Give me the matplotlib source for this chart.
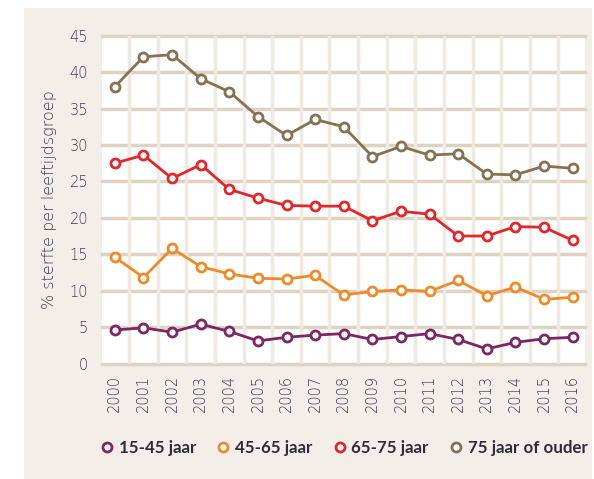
import matplotlib.pyplot as plt
from matplotlib.patches import Rectangle
from matplotlib.lines import Line2D

plt.rcParams['font.family'] = ['Lato', 'DejaVu Sans']

years = list(range(2000, 2017))
labels = ["15-45 jaar", "45-65 jaar", "65-75 jaar", "75 jaar of ouder"]

age_15_45 = [4.6, 4.9, 4.3, 5.4, 4.4, 3.1, 3.6, 3.9, 4.1, 3.3, 3.7, 4.1, 3.3, 2.0, 2.9, 3.4, 3.6]
age_45_65 = [14.6, 11.8, 15.8, 13.3, 12.3, 11.7, 11.6, 12.1, 9.4, 9.9, 10.1, 9.9, 11.4, 9.3, 10.5, 8.8, 9.1]
age_65_75 = [27.5, 28.6, 25.4, 27.3, 23.9, 22.7, 21.7, 21.6, 21.6, 19.6, 20.9, 20.5, 17.5, 17.5, 18.8, 18.7, 16.9]
age_75_plus = [38.0, 42.1, 42.4, 39.1, 37.3, 33.9, 31.3, 33.5, 32.5, 28.4, 29.8, 28.6, 28.8, 26.0, 25.9, 27.1, 26.8]

series = [age_15_45, age_45_65, age_65_75, age_75_plus]
colors = ["#7a2763", "#ef8a2c", "#e1262c", "#857255"]

text_col = "#3c3c50"
axis_font = {"family": "DejaVu Sans", "weight": 200}

fig = plt.figure(figsize=(5.94, 4.79), dpi=100)
fig.patch.set_facecolor("white")
# beige panel behind the chart
fig.patches.append(Rectangle((24 / 594, 0), (592 - 24) / 594, 1 - 8 / 479,
                             transform=fig.transFigure, facecolor="#f3efe8",
                             edgecolor="none", zorder=-5))

ax = fig.add_axes([102 / 594, 1 - 363.5 / 479, (585 - 102) / 594, (363.5 - 35.7) / 479])
ax.set_zorder(2)
ax.set_facecolor("white")

x = list(range(len(years)))
for vals, c in zip(series, colors):
    ax.plot(x, vals, color=c, lw=2, marker="o", ms=6.5, mew=2,
            mfc="white", mec=c, zorder=3, clip_on=False)

ax.set_xlim(-0.45, len(years) - 1 + 0.43)
ax.set_ylim(0, 45)

# grid: horizontal at ticks, vertical between years
for yv in range(0, 50, 5):
    ax.axhline(yv, color="#ddd3c3", lw=2.5, zorder=1, clip_on=False)
for xv in range(len(years) - 1):
    ax.axvline(xv + 0.5, color="#efe9df", lw=2.5, zorder=1)

for s in ax.spines.values():
    s.set_visible(False)

ax.set_yticks(range(0, 50, 5))
ax.set_yticklabels([str(v) for v in range(0, 50, 5)], fontdict=axis_font, fontsize=10.5)
ax.set_xticks(x)
ax.set_xticklabels([str(y) for y in years], rotation=90, fontdict=axis_font, fontsize=10.5)
ax.tick_params(length=0, colors=text_col)
ax.tick_params(axis="y", pad=10)
ax.tick_params(axis="x", pad=8)

ax.set_ylabel("% sterfte per leeftijdsgroep", color=text_col, fontsize=11.5,
              labelpad=9, fontdict=axis_font)

handles = [Line2D([], [], lw=0, marker="o", ms=6.5, mew=2, mfc="white", mec=c) for c in colors]
fig.legend(handles, labels, loc="center", bbox_to_anchor=(343 / 594, 1 - 448 / 479),
           ncol=4, frameon=False, handletextpad=0.2, columnspacing=1.1,
           handlelength=1.0, prop={"size": 12.2, "weight": "bold"}, labelcolor="#2e2a38")

fig.savefig("out.png", dpi=100, facecolor=fig.get_facecolor())
